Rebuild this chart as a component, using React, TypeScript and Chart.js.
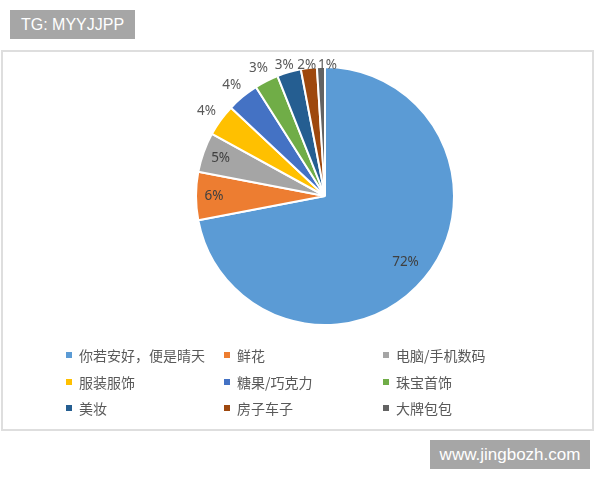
import React, { useEffect, useRef } from "react";
import { Chart, registerables } from "chart.js";

Chart.register(...registerables);

const categories = [
  "你若安好，便是晴天",
  "鲜花",
  "电脑/手机数码",
  "服装服饰",
  "糖果/巧克力",
  "珠宝首饰",
  "美妆",
  "房子车子",
  "大牌包包",
];
const values = [72, 6, 5, 4, 4, 3, 3, 2, 1];
const colors = [
  "#5B9BD5",
  "#ED7D31",
  "#A5A5A5",
  "#FFC000",
  "#4472C4",
  "#70AD47",
  "#255E91",
  "#9E480E",
  "#636363",
];

const labelPlugin = {
  id: "pieLabels",
  afterDatasetsDraw(chart: any) {
    const ctx = chart.ctx;
    const meta = chart.getDatasetMeta(0);
    const data = chart.data.datasets[0].data as number[];
    const total = data.reduce((a: number, b: number) => a + b, 0);
    ctx.save();
    ctx.font = '13.5px "Noto Sans", "DejaVu Sans", sans-serif';
    ctx.textAlign = "center";
    ctx.textBaseline = "middle";
    let prevRight = -Infinity;
    meta.data.forEach((arc: any, i: number) => {
      const { x, y, startAngle, endAngle, outerRadius } = arc.getProps(
        ["x", "y", "startAngle", "endAngle", "outerRadius"],
        true
      );
      const mid = (startAngle + endAngle) / 2;
      const frac = data[i] / total;
      const text = Math.round(frac * 100) + "%";
      const w = ctx.measureText(text).width;
      const h = 13;
      const c = Math.cos(mid);
      const s = Math.sin(mid);
      let lx: number, ly: number;
      if (frac > 0.5) {
        lx = x + c * outerRadius * 0.81;
        ly = y + s * outerRadius * 0.81;
        ctx.fillStyle = "#404040";
      } else if (frac >= 0.05) {
        lx = x + c * outerRadius * 0.86;
        ly = y + s * outerRadius * 0.86;
        ctx.fillStyle = "#404040";
      } else {
        const rr = outerRadius + 8;
        lx = x + c * rr + (c * w) / 2;
        ly = y + s * rr + (s * h) / 2;
        const topLimit = y - outerRadius - 2;
        if (ly < topLimit) ly = topLimit;
        ctx.fillStyle = "#595959";
        if (lx - w / 2 < prevRight + 2 && ly < y - outerRadius + 20) {
          lx = prevRight + 2 + w / 2;
        }
        prevRight = lx + w / 2;
      }
      ctx.fillText(text, lx, ly);
    });
    ctx.restore();
  },
};

export default function App() {
  const ref = useRef<HTMLCanvasElement | null>(null);
  useEffect(() => {
    if (!ref.current) return;
    const chart = new Chart(ref.current, {
      type: "pie",
      data: {
        labels: categories,
        datasets: [
          {
            data: values,
            backgroundColor: colors,
            borderColor: "#ffffff",
            borderWidth: 2,
          },
        ],
      },
      options: {
        animation: false,
        responsive: false,
        maintainAspectRatio: false,
        layout: { padding: { left: 195, right: 145, top: 16, bottom: 104 } },
        plugins: {
          legend: { display: false },
          tooltip: { enabled: false },
        },
      },
      plugins: [labelPlugin],
    });
    return () => chart.destroy();
  }, []);

  const colX = [66, 224, 383];
  const rowY = [355, 382, 408];

  return (
    <div
      style={{
        position: "fixed",
        left: 0,
        top: 0,
        width: 600,
        height: 480,
        background: "#ffffff",
        overflow: "hidden",
      }}
    >
      <div
        style={{
          position: "absolute",
          left: 1,
          top: 50,
          width: 589,
          height: 377,
          border: "2px solid #dedede",
        }}
      />
      <canvas
        ref={ref}
        width={600}
        height={380}
        style={{ position: "absolute", left: 0, top: 50, width: 600, height: 380 }}
      />
      {categories.map((name, i) => {
        const col = i % 3;
        const row = Math.floor(i / 3);
        return (
          <div
            key={name}
            style={{
              position: "absolute",
              left: colX[col],
              top: rowY[row] - 10,
              height: 20,
              display: "flex",
              alignItems: "center",
              whiteSpace: "nowrap",
              fontFamily: '"Noto Sans CJK SC", "Noto Sans", sans-serif',
              fontSize: 14,
              color: "#595959",
            }}
          >
            <span
              style={{
                display: "inline-block",
                width: 6,
                height: 6,
                background: colors[i],
                marginRight: 7,
              }}
            />
            <span>{name}</span>
          </div>
        );
      })}
      <div
        style={{
          position: "absolute",
          left: 10,
          top: 10,
          width: 125,
          height: 29,
          background: "#a6a6a6",
          color: "#ffffff",
          fontFamily: "Helvetica, Arial, 'Liberation Sans', sans-serif",
          fontSize: 16,
          lineHeight: "29px",
          textAlign: "center",
        }}
      >
        TG: MYYJJPP
      </div>
      <div
        style={{
          position: "absolute",
          left: 430,
          top: 440,
          width: 160,
          height: 29,
          background: "#a6a6a6",
          color: "#ffffff",
          fontFamily: "Helvetica, Arial, 'Liberation Sans', sans-serif",
          fontSize: 17,
          lineHeight: "29px",
          textAlign: "center",
        }}
      >
        www.jingbozh.com
      </div>
    </div>
  );
}
